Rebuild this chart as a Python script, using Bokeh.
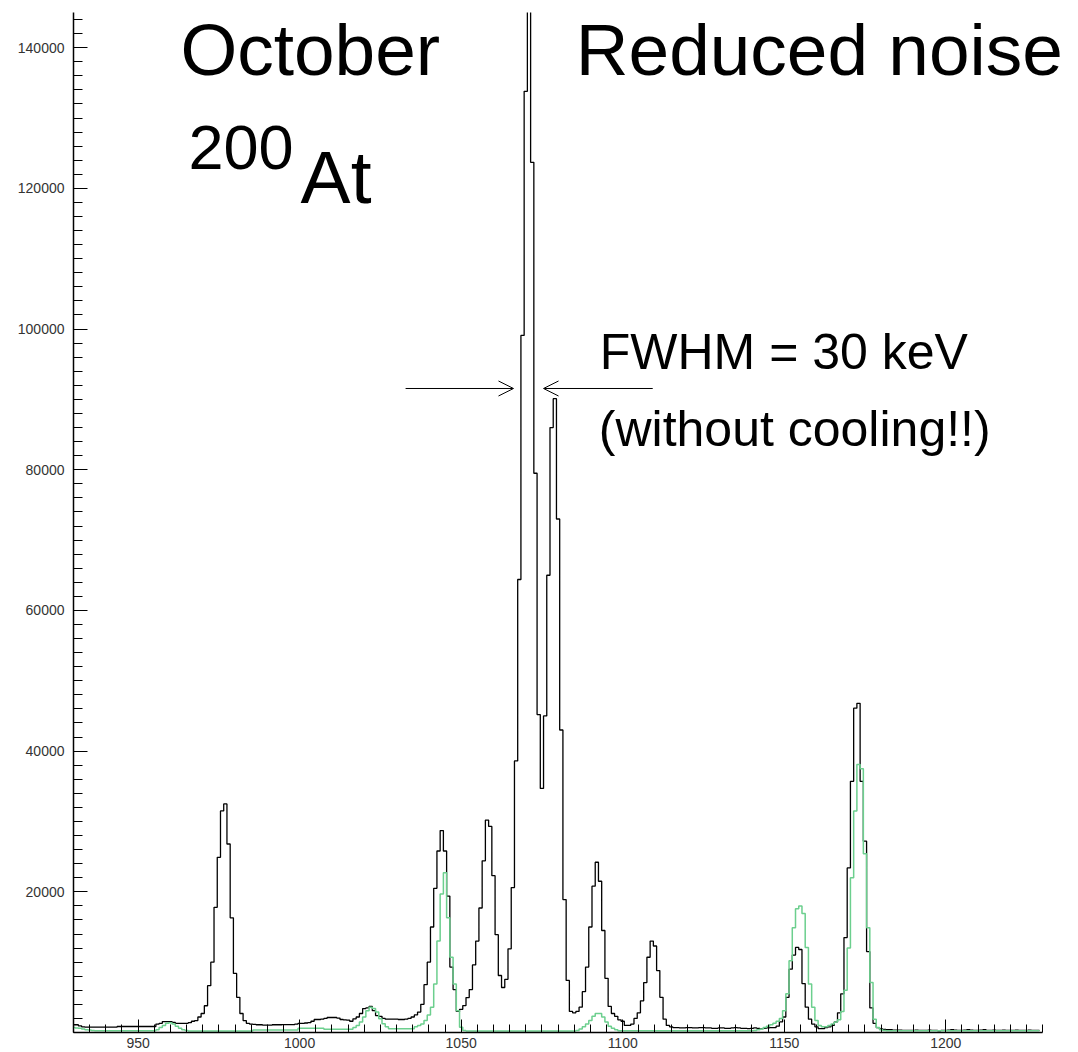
from bokeh.plotting import figure
from bokeh.models import FixedTicker, Label, Arrow, OpenHead, Range1d, BasicTickFormatter
from bokeh.embed import file_html
from bokeh.resources import INLINE

# Spectrum channels (one bin per channel)
channels = list(range(930, 1230))

# Counts per channel, original spectrum
counts_oct = [
    1100, 1100, 950, 800, 750, 750, 750, 750, 750, 750,
    750, 750, 750, 750, 850, 850, 850, 850, 850, 850,
    850, 850, 850, 850, 850, 850, 1200, 1300, 1550, 1550,
    1550, 1450, 1300, 1300, 1300, 1300, 1400, 1600, 1700, 2200,
    2700, 3800, 6650, 10000, 17800, 24900, 31500, 32500, 26800, 16300,
    8400, 5000, 2700, 1700, 1300, 1200, 1150, 1100, 1100, 1050,
    1050, 1050, 1100, 1100, 1100, 1130, 1130, 1130, 1130, 1200,
    1300, 1300, 1350, 1400, 1600, 1850, 1850, 1900, 2000, 2130,
    2130, 2130, 2050, 1850, 1800, 1750, 1600, 1940, 2200, 2700,
    3400, 3500, 3700, 3100, 2400, 2300, 2000, 1900, 1900, 1900,
    1900, 1850, 1850, 1900, 2000, 2200, 2500, 2900, 4000, 6800,
    10000, 15000, 20500, 25800, 28700, 25800, 19400, 9300, 6100, 3000,
    3300, 3830, 4960, 6100, 9600, 13000, 17700, 24400, 30200, 29300,
    22300, 13900, 8100, 6400, 7560, 11900, 20600, 38600, 64400, 99100,
    133800, 152000, 123700, 79500, 45200, 34700, 45000, 65000, 86000, 90100,
    73000, 43000, 18900, 7400, 3000, 2800, 3000, 3600, 5800, 9300,
    15000, 20800, 24200, 21500, 14500, 7700, 3700, 2700, 2300, 1800,
    1600, 1000, 1000, 1200, 2000, 2800, 4500, 7100, 10700, 13000,
    12300, 8800, 5000, 1900, 1000, 800, 700, 700, 650, 650,
    700, 700, 650, 650, 700, 700, 650, 650, 600, 600,
    650, 650, 600, 600, 650, 700, 650, 600, 600, 550,
    600, 650, 600, 550, 600, 650, 700, 700, 900, 1500,
    2200, 5000, 9000, 11000, 12100, 11800, 6950, 3600, 1900, 1200,
    800, 550, 550, 700, 800, 1000, 1500, 2800, 5500, 13500,
    23400, 35700, 46100, 46800, 35700, 27200, 11500, 3500, 1300, 700,
    500, 450, 400, 400, 350, 350, 350, 300, 300, 300,
    300, 350, 300, 300, 300, 350, 300, 300, 250, 300,
    300, 350, 400, 350, 300, 300, 350, 400, 350, 300,
    300, 350, 400, 300, 300, 350, 300, 300, 350, 300,
    300, 300, 350, 300, 300, 300, 350, 300, 300, 300,
]

# Counts per channel, reduced-noise spectrum
counts_reduced = [
    700, 650, 600, 500, 400, 350, 300, 250, 250, 250,
    250, 250, 250, 250, 250, 250, 250, 250, 250, 250,
    250, 250, 250, 250, 250, 250, 400, 700, 1000, 1300,
    1400, 1200, 900, 600, 400, 300, 200, 200, 200, 200,
    200, 200, 200, 200, 200, 200, 200, 200, 200, 200,
    200, 200, 200, 200, 200, 200, 350, 350, 350, 350,
    350, 350, 350, 350, 350, 350, 350, 350, 350, 350,
    600, 600, 600, 600, 600, 600, 600, 600, 450, 450,
    450, 450, 450, 450, 450, 450, 450, 700, 1000, 1500,
    2200, 3100, 3600, 3400, 2900, 1940, 1230, 800, 520, 520,
    520, 520, 520, 520, 520, 520, 800, 1000, 1200, 1700,
    2500, 3600, 6900, 13000, 19700, 22700, 16300, 10700, 6900, 3100,
    750, 300, 200, 200, 200, 200, 200, 200, 200, 200,
    200, 200, 200, 200, 200, 200, 200, 200, 200, 200,
    200, 200, 200, 200, 200, 200, 200, 200, 200, 200,
    200, 200, 200, 200, 200, 200, 300, 500, 800, 1200,
    1700, 2300, 2700, 2700, 2200, 1500, 900, 600, 400, 250,
    250, 250, 250, 250, 250, 250, 250, 250, 250, 250,
    250, 250, 250, 250, 250, 250, 250, 250, 250, 250,
    250, 250, 250, 250, 250, 250, 250, 250, 250, 250,
    250, 250, 250, 250, 250, 250, 250, 250, 250, 250,
    250, 300, 400, 500, 700, 900, 1100, 1300, 1600, 2000,
    3100, 5500, 10200, 14900, 17600, 18000, 16900, 12100, 6900, 3600,
    1700, 1000, 800, 800, 1000, 1200, 1500, 1800, 3000, 6000,
    12000, 22000, 31500, 38100, 37500, 25400, 14900, 7100, 1900, 700,
    400, 300, 250, 250, 250, 250, 250, 250, 250, 250,
    250, 250, 250, 250, 250, 250, 250, 250, 250, 250,
    250, 250, 250, 250, 250, 250, 250, 250, 250, 250,
    250, 250, 250, 250, 250, 250, 250, 250, 250, 250,
    250, 250, 250, 250, 250, 250, 250, 250, 250, 250,
]

# Axis ticks
x_major_ticks = [950, 1000, 1050, 1100, 1150, 1200]
x_minor_ticks = list(range(930, 1231, 5))
y_major_ticks = [20000, 40000, 60000, 80000, 100000, 120000, 140000]
y_minor_ticks = list(range(0, 145001, 2000))

FONT = "Liberation Sans"

# The frame runs to the right edge so the heading is not clipped;
# the axis itself is bounded to the spectrum range.
p = figure(
    width=1078, height=1052,
    x_range=Range1d(930, 1241.1), y_range=Range1d(0, 145000),
    output_backend="svg", toolbar_location=None,
    min_border_left=73, min_border_right=0,
    min_border_top=12, min_border_bottom=20,
    background_fill_color="white", border_fill_color="white",
)
p.outline_line_color = None
p.xgrid.visible = False
p.ygrid.visible = False

for ax in (p.xaxis[0], p.yaxis[0]):
    ax.axis_line_color = "black"
    ax.axis_line_width = 1.5
    ax.major_tick_line_color = "black"
    ax.minor_tick_line_color = "black"
    ax.major_tick_out = 0
    ax.minor_tick_out = 0
    ax.major_label_text_font = FONT
    ax.major_label_text_font_size = "14px"
    ax.major_label_text_color = "#333333"

p.xaxis.bounds = (930, 1230)
p.xaxis.ticker = FixedTicker(ticks=x_major_ticks, minor_ticks=x_minor_ticks)
p.xaxis.major_tick_in = 13
p.xaxis.minor_tick_in = 8
p.xaxis.major_label_standoff = 5

p.yaxis.ticker = FixedTicker(ticks=y_major_ticks, minor_ticks=y_minor_ticks)
p.yaxis.formatter = BasicTickFormatter(use_scientific=False)
p.yaxis.major_tick_in = 14
p.yaxis.minor_tick_in = 9
p.yaxis.major_label_standoff = 9

# Histograms drawn as steps centred on each channel
p.step(channels, counts_oct, mode="center", line_color="black", line_width=1.3)
p.step(channels, counts_reduced, mode="center", line_color="#6ccf8e", line_width=1.5)

# Annotations
def big_label(x, y, text, size):
    p.add_layout(Label(x=x, y=y, text=text, text_font=FONT, text_font_size=size,
                       text_color="black", text_baseline="alphabetic", text_align="left"))

big_label(963.1, 139700, "October", "73px")
big_label(1085.5, 139700, "Reduced noise", "73px")
big_label(965.6, 125800, "200", "63px")
big_label(1000.3, 121600, "At", "75px")
big_label(1092.9, 96800, "FWHM = 30 keV", "50px")
big_label(1092.6, 85800, "(without cooling!!)", "50px")

p.add_layout(Arrow(end=OpenHead(size=15, line_width=1, line_color="black"),
                   x_start=1032.8, y_start=91550, x_end=1066.2, y_end=91550,
                   line_width=1, line_color="black"))
p.add_layout(Arrow(end=OpenHead(size=15, line_width=1, line_color="black"),
                   x_start=1109.3, y_start=91550, x_end=1075.5, y_end=91550,
                   line_width=1, line_color="black"))

open("out.html", "w").write(file_html(p, INLINE))
